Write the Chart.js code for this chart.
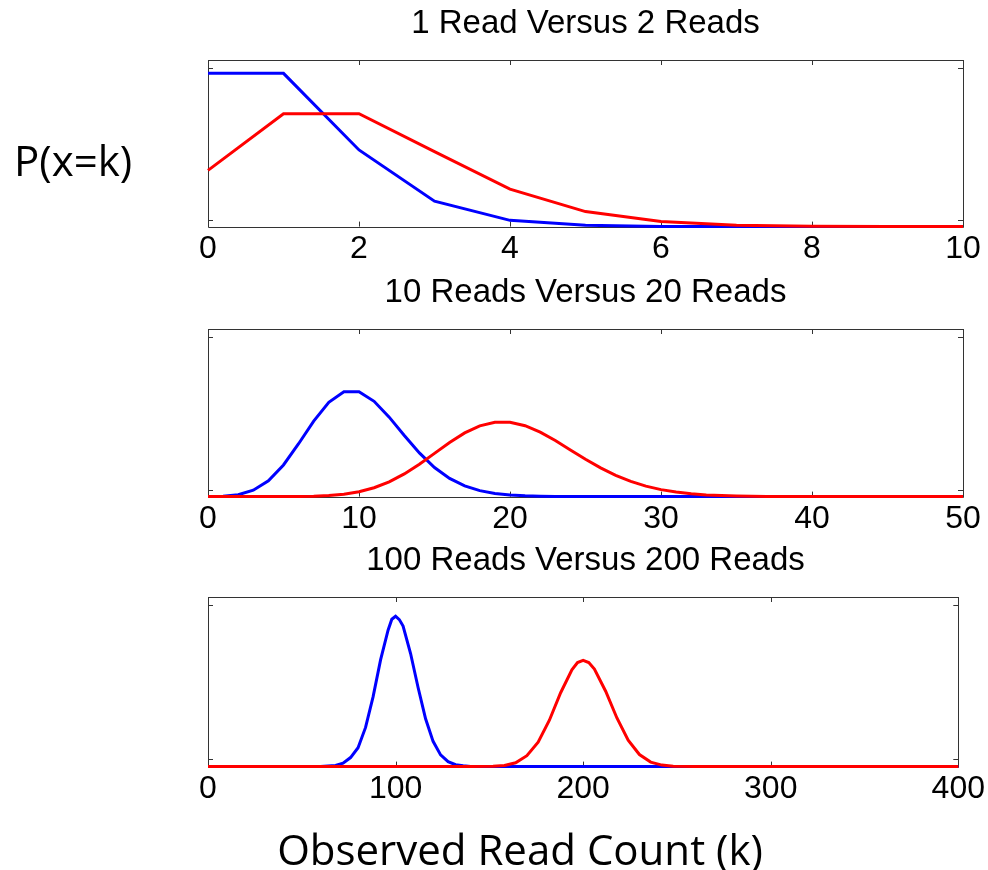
<!DOCTYPE html>
<html>
<head>
<meta charset="utf-8">
<title>Poisson read counts</title>
<script src="https://cdn.jsdelivr.net/npm/chart.js@4.4.1/dist/chart.umd.min.js"></script>
<style>
  html, body { margin: 0; padding: 0; background: #fff; }
  #page { position: relative; width: 988px; height: 870px; overflow: hidden; }
  .panel { position: absolute; left: 0; }
  .label { position: absolute; font-family: "Open Sans", "Noto Sans", sans-serif; color: #000; white-space: nowrap; line-height: 1; }
  #ylab { left: 14px; top: 139px; font-size: 42px; }
  #xlab { left: 0; width: 1040px; text-align: center; top: 828px; font-size: 42px; }
</style>
</head>
<body>
<div id="page">
  <canvas id="c1" class="panel"></canvas>
  <canvas id="c2" class="panel"></canvas>
  <canvas id="c3" class="panel"></canvas>
  <div id="ylab" class="label">P(x=k)</div>
  <div id="xlab" class="label">Observed Read Count (k)</div>
</div>
<script>
// --- panel 1: 1 read vs 2 reads ---
const k1 = [0, 1, 2, 3, 4, 5, 6, 7, 8, 9, 10];
const oneRead = [0.368, 0.368, 0.184, 0.061, 0.015, 0.003, 0.0005, 0.0001, 0, 0, 0];
const twoReads = [0.135, 0.271, 0.271, 0.180, 0.090, 0.036, 0.012, 0.0034, 0.0009, 0.0002, 0];

// --- panel 2: 10 reads vs 20 reads ---
const k2 = [0, 1, 2, 3, 4, 5, 6, 7, 8, 9, 10, 11, 12, 13, 14, 15, 16, 17, 18, 19, 20,
  21, 22, 23, 24, 25, 26, 27, 28, 29, 30, 31, 32, 33, 34, 35, 36, 37, 38, 39, 40,
  41, 42, 43, 44, 45, 46, 47, 48, 49, 50];
const tenReads = [0, 0.0005, 0.0023, 0.0076, 0.0189, 0.0378, 0.0631, 0.0901, 0.1126, 0.1251, 0.1251,
  0.1137, 0.0948, 0.0729, 0.0521, 0.0347, 0.0217, 0.0128, 0.0071, 0.0037, 0.0019,
  0.0009, 0.0004, 0.0002, 0.0001, 0, 0, 0, 0, 0, 0,
  0, 0, 0, 0, 0, 0, 0, 0, 0, 0,
  0, 0, 0, 0, 0, 0, 0, 0, 0, 0];
const twentyReads = [0, 0, 0, 0, 0, 0, 0.0002, 0.0005, 0.0013, 0.0029, 0.0058,
  0.0106, 0.0176, 0.0271, 0.0387, 0.0516, 0.0646, 0.0760, 0.0844, 0.0888, 0.0888,
  0.0846, 0.0769, 0.0669, 0.0557, 0.0446, 0.0343, 0.0254, 0.0181, 0.0125, 0.0083,
  0.0054, 0.0034, 0.0020, 0.0012, 0.0007, 0.0004, 0.0002, 0.0001, 0, 0,
  0, 0, 0, 0, 0, 0, 0, 0, 0, 0];

// --- panel 3: 100 reads vs 200 reads ---
const k3a = [0, 60, 68, 72, 76, 80, 84, 88, 92, 96, 98, 100, 102, 104, 108, 112, 116, 120, 124, 128, 132, 136, 140, 400];
const hundredReads = [0, 0, 0.0003, 0.0009, 0.0024, 0.0050, 0.0104, 0.0185, 0.0283, 0.0362, 0.0391, 0.0399, 0.0390,
  0.0373, 0.0300, 0.0210, 0.0127, 0.0067, 0.0031, 0.0013, 0.0005, 0.0002, 0, 0];
const k3b = [0, 140, 152, 158, 164, 170, 176, 182, 188, 194, 197, 200, 203, 206, 212, 218, 224, 230, 236, 242, 248, 260, 400];
const twoHundredReads = [0, 0, 0.0001, 0.0003, 0.0010, 0.0029, 0.0065, 0.0123, 0.0196, 0.0257, 0.0276, 0.0282, 0.0276,
  0.0259, 0.0200, 0.0129, 0.0070, 0.0032, 0.0012, 0.0004, 0.0001, 0, 0];

const BLUE = '#0000ff';
const RED = '#ff0000';

function toPoints(xs, ys) {
  return xs.map((x, i) => ({ x: x, y: ys[i] }));
}

// MATLAB-style axes box with inward tick marks
const boxPlugin = {
  id: 'box',
  beforeDatasetsDraw(chart, args, opts) {
    const { ctx, chartArea: a } = chart;
    const xs = chart.scales.x;
    const ys = chart.scales.y;
    ctx.save();
    ctx.strokeStyle = '#333';
    ctx.lineWidth = 1;
    ctx.beginPath();
    ctx.rect(Math.round(a.left) + 0.5, Math.round(a.top) + 0.5,
      Math.round(a.right - a.left), Math.round(a.bottom - a.top));
    ctx.stroke();
    ctx.beginPath();
    xs.ticks.forEach(t => {
      const px = Math.round(xs.getPixelForValue(t.value)) + 0.5;
      ctx.moveTo(px, a.top); ctx.lineTo(px, a.top + 5);
      ctx.moveTo(px, a.bottom); ctx.lineTo(px, a.bottom - 5);
    });
    (opts.yTicks || []).forEach(v => {
      const py = Math.round(ys.getPixelForValue(v)) + 0.5;
      ctx.moveTo(a.left, py); ctx.lineTo(a.left + 5, py);
      ctx.moveTo(a.right, py); ctx.lineTo(a.right - 5, py);
    });
    ctx.stroke();
    ctx.restore();
  }
};

function makePanel(id, top, plotHeight, title, xMax, xStep, yMax, yTicks, blue, red) {
  const canvas = document.getElementById(id);
  canvas.width = 988;
  canvas.height = plotHeight + 112;
  canvas.style.top = top + 'px';

  return new Chart(canvas, {
    type: 'line',
    data: {
      datasets: [
        { data: red, borderColor: RED, borderWidth: 3, pointRadius: 0, clip: 4 },
        { data: blue, borderColor: BLUE, borderWidth: 3, pointRadius: 0, clip: 4 }
      ]
    },
    options: {
      responsive: false,
      animation: false,
      events: [],
      layout: { padding: { left: 208, right: 25, top: 0, bottom: 4 } },
      plugins: {
        legend: { display: false },
        tooltip: { enabled: false },
        title: {
          display: true,
          text: title,
          color: '#000',
          font: { family: 'Liberation Sans', size: 33, weight: 'normal' },
          padding: { top: 4, bottom: 16.4 }
        },
        box: { yTicks: yTicks }
      },
      scales: {
        x: {
          type: 'linear',
          min: 0,
          max: xMax,
          grid: { display: false, drawTicks: false },
          border: { display: false },
          ticks: {
            stepSize: xStep,
            padding: 3,
            color: '#000',
            maxRotation: 0,
            font: { family: 'Liberation Sans', size: 32 }
          }
        },
        y: {
          display: false,
          min: 0,
          max: yMax
        }
      }
    },
    plugins: [boxPlugin]
  });
}

makePanel('c1', 0, 163, '1 Read Versus 2 Reads', 10, 2, 0.4, [0.015, 0.38],
  toPoints(k1, oneRead), toPoints(k1, twoReads));
makePanel('c2', 269, 164, '10 Reads Versus 20 Reads', 50, 10, 0.2, [0.0075, 0.19],
  toPoints(k2, tenReads), toPoints(k2, twentyReads));
makePanel('c3', 537, 166, '100 Reads Versus 200 Reads', 400, 100, 0.045, [0.0019, 0.043],
  toPoints(k3a, hundredReads), toPoints(k3b, twoHundredReads));
</script>
</body>
</html>
